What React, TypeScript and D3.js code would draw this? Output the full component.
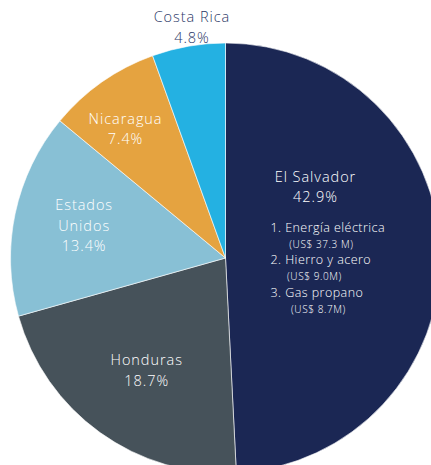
import React from "react";
import * as d3 from "d3";

const countries = ["El Salvador", "Honduras", "Estados Unidos", "Nicaragua", "Costa Rica"];
const shares = [42.9, 18.7, 13.4, 7.4, 4.8];
const colors = ["#1b2754", "#46525a", "#88c0d5", "#e5a340", "#24b1e2"];
const labelLines = [["El Salvador"], ["Honduras"], ["Estados", "Unidos"], ["Nicaragua"], ["Costa Rica"]];
const products = ["1. Energía eléctrica", "2. Hierro y acero", "3. Gas propano"];
const productValues = ["(US$ 37.3 M)", "(US$ 9.0M)", "(US$ 8.7M)"];

const W = 431;
const H = 465;
const cx = 225.5;
const cy = 258;
const R = 215;
const labelR = [92, 141, 145, 160, 230];
const labelDx = [-2, 3.5, 0.5, -8, 6];
const labelDy = [-7, -2, -2, 2, -4];
const valueCx = [51, 44, 48];
const FONT = "'Open Sans', 'Noto Sans', sans-serif";

export default function App() {
  const pie = d3
    .pie<number>()
    .sort(null)
    .value((d) => d);
  const arcs = pie(shares);
  const arc = d3.arc<d3.PieArcDatum<number>>().innerRadius(0).outerRadius(R);

  return (
    <svg width={W} height={H} style={{ position: "absolute", left: 0, top: 0, background: "#fff" }}>
      <g transform={`translate(${cx},${cy})`}>
        {arcs.map((a, i) => (
          <path key={i} d={arc(a) || ""} fill={colors[i]} stroke="#ffffff" strokeWidth={0.6} />
        ))}
        {arcs.map((a, i) => {
          const la = d3.arc<d3.PieArcDatum<number>>().innerRadius(labelR[i]).outerRadius(labelR[i]);
          const [x0, y0] = la.centroid(a);
          const x = x0 + labelDx[i];
          const lines = [...labelLines[i], shares[i].toFixed(1) + "%"];
          const fill = i === 4 ? "#2a3766" : "#ffffff";
          const lh = 20.5;
          const n = i === 0 ? lines.length + 6 : lines.length;
          const top = y0 - ((n - 1) * lh) / 2 + 5 + labelDy[i];
          return (
            <g key={"l" + i} fontFamily={FONT} fontWeight={300}>
              {lines.map((t, j) => (
                <text
                  key={j}
                  x={x}
                  y={top + j * lh}
                  fontSize={14.5}
                  letterSpacing={0.95}
                  textAnchor="middle"
                  fill={fill}
                >
                  {t}
                </text>
              ))}
              {i === 0 &&
                products.map((p, k) => (
                  <g key={"p" + k}>
                    <text
                      x={x - 45}
                      y={top + 50 + k * 32.5}
                      fontSize={12.5}
                      letterSpacing={0.45}
                      fill="#ffffff"
                    >
                      {p}
                    </text>
                    <text
                      x={x - 45 + valueCx[k]}
                      y={top + 66 + k * 32.5}
                      fontSize={10}
                      letterSpacing={0.6}
                      textAnchor="middle"
                      fill="#ffffff"
                    >
                      {productValues[k]}
                    </text>
                  </g>
                ))}
            </g>
          );
        })}
      </g>
    </svg>
  );
}
